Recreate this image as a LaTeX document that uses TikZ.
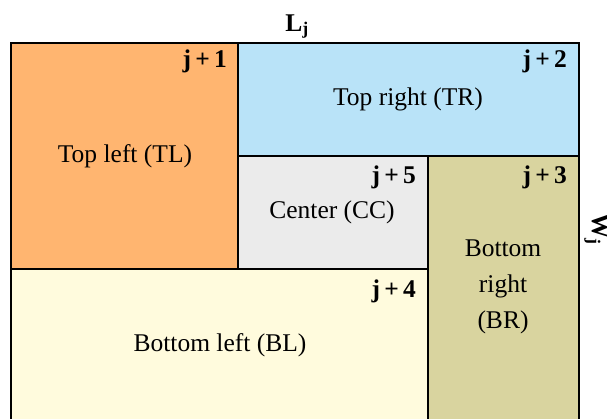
\documentclass[tikz,border=0pt]{standalone}
\usepackage{fontspec}
\setmainfont{Liberation Serif}
\definecolor{tlcol}{HTML}{FFB570}
\definecolor{trcol}{HTML}{B9E3F8}
\definecolor{cccol}{HTML}{EBEBEB}
\definecolor{brcol}{HTML}{D9D49F}
\definecolor{blcol}{HTML}{FFFBDD}
\tikzset{
  regionbox/.style={draw=black, line width=1.3pt},
  idxlabel/.style={font=\fontsize{25.5}{30}\selectfont\bfseries, anchor=base east, inner sep=0pt},
  regionlabel/.style={font=\fontsize{25.5}{36}\selectfont, align=center, inner sep=0pt},
  dimlabel/.style={font=\fontsize{25.5}{30}\selectfont\bfseries, inner sep=0pt}
}
\begin{document}
\begin{tikzpicture}[x=1pt,y=-1pt]
  \useasboundingbox (0,0) rectangle (607,418);
  \begin{scope}
    \clip (0,0) rectangle (607,418);
    % the five sub-regions of the block
    \filldraw[regionbox, fill=tlcol] (11,43) rectangle (238,269);
    \filldraw[regionbox, fill=trcol] (238,43) rectangle (579,156);
    \filldraw[regionbox, fill=cccol] (238,156) rectangle (428,269);
    \filldraw[regionbox, fill=brcol] (428,156) rectangle (579,440);
    \filldraw[regionbox, fill=blcol] (11,269) rectangle (428,440);
    % width label, its top runs past the right edge
    \node[dimlabel, rotate=-90, anchor=base] (W) at (592,229) {W\textsubscript{j}};
  \end{scope}
  % length label
  \node[dimlabel, anchor=base] (L) at (297,31) {L\textsubscript{j}};
  % indices
  \node[idxlabel] (i1) at (227,67) {j\,+\,1};
  \node[idxlabel] (i2) at (567,67) {j\,+\,2};
  \node[idxlabel] (i5) at (416,183) {j\,+\,5};
  \node[idxlabel] (i3) at (567,183) {j\,+\,3};
  \node[idxlabel] (i4) at (416,297) {j\,+\,4};
  % region names
  \node[regionlabel] (tl) at (125,156) {Top left (TL)};
  \node[regionlabel] (tr) at (408,99) {Top right (TR)};
  \node[regionlabel] (cc) at (332,212) {Center (CC)};
  \node[regionlabel] (br) at (503,287) {Bottom\\right\\(BR)};
  \node[regionlabel] (bl) at (220,345) {Bottom left (BL)};
\end{tikzpicture}
\end{document}
